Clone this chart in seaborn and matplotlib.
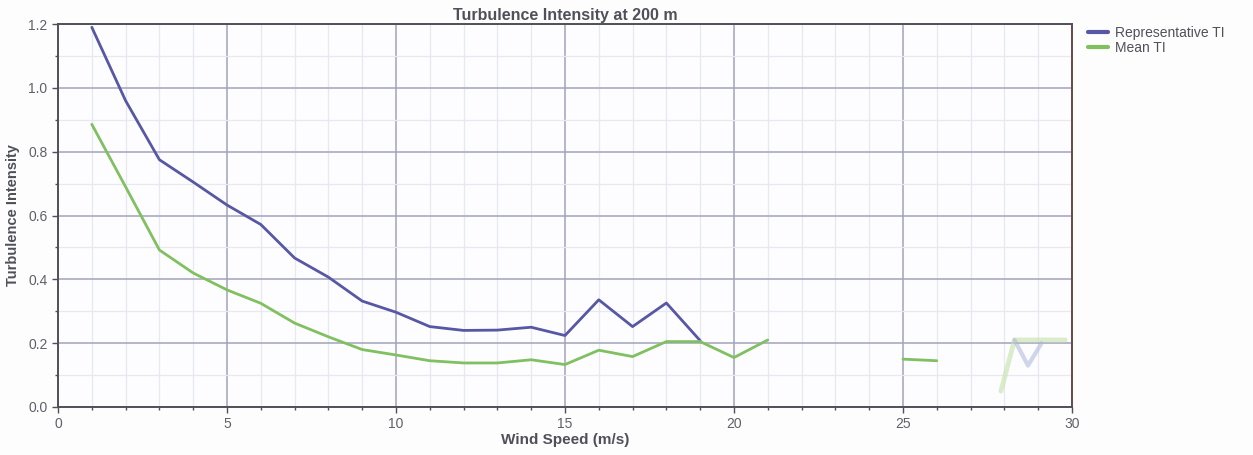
import numpy as np
import pandas as pd
import matplotlib
matplotlib.use("Agg")
import matplotlib.pyplot as plt
from matplotlib.ticker import MultipleLocator
import seaborn as sns

# Wind speed bins (m/s) and turbulence intensity per bin
rep_speed = [1, 2, 3, 4, 5, 6, 7, 8, 9, 10, 11, 12, 13, 14, 15, 16, 17, 18, 19]
rep_ti = [1.19, 0.96, 0.775, 0.705, 0.633, 0.572, 0.467, 0.407, 0.332, 0.297,
          0.252, 0.24, 0.241, 0.25, 0.224, 0.336, 0.252, 0.326, 0.208]

mean_speed = [1, 2, 3, 4, 5, 6, 7, 8, 9, 10, 11, 12, 13, 14, 15, 16, 17, 18, 19, 20, 21,
              25, 26]
mean_ti = [0.886, 0.69, 0.492, 0.42, 0.367, 0.325, 0.263, 0.22, 0.18, 0.163,
           0.145, 0.138, 0.138, 0.148, 0.133, 0.178, 0.158, 0.205, 0.205, 0.155, 0.21,
           0.15, 0.145]
mean_segment = [0] * 21 + [1] * 2

# sparse high-wind bins, drawn faintly
tail_rep_speed = [28.3, 28.7, 29.1]
tail_rep_ti = [0.21, 0.13, 0.2]
tail_mean_speed = [27.9, 28.3, 29.8]
tail_mean_ti = [0.05, 0.21, 0.21]

series_names = ["Representative TI", "Mean TI"]
colors = {"Representative TI": "#5757a4", "Mean TI": "#80c060"}

df = pd.concat([
    pd.DataFrame({"speed": rep_speed, "ti": rep_ti, "series": series_names[0],
                  "segment": 0}),
    pd.DataFrame({"speed": mean_speed, "ti": mean_ti, "series": series_names[1],
                  "segment": mean_segment}),
], ignore_index=True)
df["unit"] = df["series"] + "_" + df["segment"].astype(str)

sns.set_style("white")
plt.rcParams["font.family"] = ["Liberation Sans", "DejaVu Sans"]

fig = plt.figure(figsize=(12.53, 4.55), dpi=100, facecolor="#fdfdfe")
ax = fig.add_axes([0.0463, 0.1055, 0.8092, 0.8415])
ax.set_facecolor("#fdfdff")

sns.lineplot(data=df, x="speed", y="ti", hue="series", units="unit",
             estimator=None, palette=colors, hue_order=series_names,
             linewidth=2.0, ax=ax, legend=True, sort=False)

ax.plot(tail_mean_speed, tail_mean_ti, color="#c4e2a8", lw=3.5, alpha=0.6)
ax.plot(tail_rep_speed, tail_rep_ti, color="#aab6d8", lw=3, alpha=0.55)

ax.set_xlim(0, 30)
ax.set_ylim(0, 1.2)
ax.xaxis.set_major_locator(MultipleLocator(5))
ax.xaxis.set_minor_locator(MultipleLocator(1))
ax.yaxis.set_major_locator(MultipleLocator(0.2))
ax.yaxis.set_minor_locator(MultipleLocator(0.1))
ax.yaxis.set_major_formatter(matplotlib.ticker.FormatStrFormatter("%.1f"))

ax.grid(which="minor", color="#e8e8f2", linewidth=0.9)
ax.grid(which="major", color="#a2a2bc", linewidth=1.1)
ax.set_axisbelow(True)

for side in ["left", "bottom", "top", "right"]:
    ax.spines[side].set_visible(True)
    ax.spines[side].set_color("#505058")
    ax.spines[side].set_linewidth(1.4)
ax.spines["right"].set_color("#6a4848")

ax.tick_params(which="major", direction="out", length=4, width=1, color="#505058",
               labelsize=10, labelcolor="#606068", bottom=True, left=True)
ax.tick_params(which="minor", direction="out", length=2.5, width=1, color="#505058",
               bottom=True, left=True)

ax.set_title("Turbulence Intensity at 200 m", fontsize=11.5, fontweight="bold",
             color="#50505a", pad=3)
ax.set_xlabel("Wind Speed (m/s)", fontsize=11, fontweight="bold", color="#50505a",
              labelpad=1)
ax.set_ylabel("Turbulence Intensity", fontsize=10.5, fontweight="bold", color="#50505a",
              labelpad=6)

leg = ax.legend(loc="upper left", bbox_to_anchor=(1.01, 1.01), frameon=False,
                fontsize=10, handlelength=1.5, handletextpad=0.5, labelspacing=0.1,
                borderaxespad=0)
for text in leg.get_texts():
    text.set_color("#50505a")
for line in leg.get_lines():
    line.set_linewidth(3)

fig.savefig("out.png", dpi=100, facecolor=fig.get_facecolor())
